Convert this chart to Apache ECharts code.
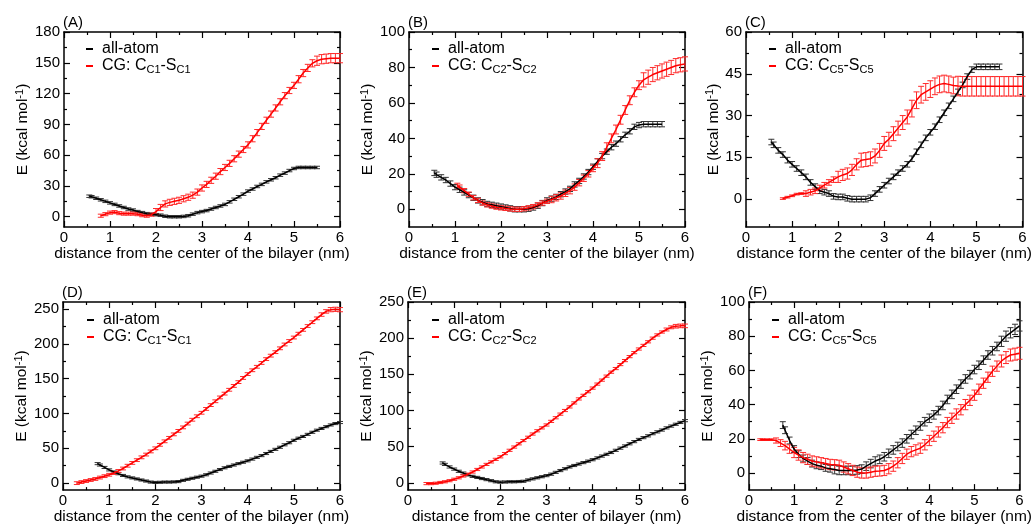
<!DOCTYPE html>
<html><head><meta charset="utf-8">
<script src="https://cdn.jsdelivr.net/npm/echarts@6/dist/echarts.min.js"></script>
<style>html,body{margin:0;padding:0;background:#fff}#c{width:1034px;height:526px}</style>
</head><body><div id="c"></div><script>
// ---- data: [distance (nm), E (kcal/mol), error] ----
const A_allatom = [[0.55,20,1.2],[0.6,19.5,1.2],[0.7,18,1.2],[0.8,16.5,1.2],[0.9,15,1.2],[1.0,13.5,1.2],[1.1,12,1.2],[1.2,10.5,1.2],[1.3,9,1.2],[1.4,7.5,1.2],[1.5,6.5,1.2],[1.6,5,1.2],[1.7,4,1.2],[1.8,3,1.2],[1.9,2.5,1.2],[2.0,2,1.2],[2.1,1.5,1.2],[2.2,0.5,1.2],[2.3,0,1.2],[2.4,0,1.2],[2.5,0,1.2],[2.6,0.3,1.2],[2.7,1,1.2],[2.8,2.5,1.2],[2.9,4,1.2],[3.0,5,1.2],[3.1,6,1.2],[3.2,7.5,1.2],[3.3,9,1.2],[3.4,10.5,1.2],[3.5,12,1.2],[3.6,14.5,1.2],[3.7,17,1.2],[3.8,19.5,1.2],[3.9,22,1.2],[4.0,25,1.2],[4.1,27,1.2],[4.2,29.5,1.2],[4.3,31.5,1.2],[4.4,34,1.2],[4.5,36,1.2],[4.6,38,1.2],[4.7,40.5,1.2],[4.8,42.5,1.2],[4.9,45,1.2],[5.0,47,1.2],[5.1,48,1.2],[5.2,48,1.2],[5.3,48,1.2],[5.4,48,1.2],[5.5,48,1.2]];
const A_cg = [[0.8,1,1.5],[0.9,2.5,1.5],[1.0,4,1.5],[1.1,4.5,1.5],[1.2,3.5,1.5],[1.3,3,1.5],[1.4,3,1.5],[1.5,3,1.5],[1.6,2.5,1.5],[1.7,1.5,1.5],[1.8,1,1.5],[1.9,2,1.5],[2.0,5,3],[2.1,9,3],[2.2,12.5,3],[2.3,14,3],[2.4,15,3],[2.5,16,3],[2.6,17.5,3],[2.7,19,3],[2.8,21,3],[2.9,24,3],[3.0,28,3],[3.1,31.5,3],[3.2,35.5,3],[3.3,39.5,3],[3.4,44,3],[3.5,48,3],[3.6,52,3],[3.7,56.5,3],[3.8,61,3],[3.9,65.5,3],[4.0,70,3],[4.1,76,3],[4.2,82,3],[4.3,88,3],[4.4,94,3],[4.5,100,3],[4.6,106,3],[4.7,112,3],[4.8,118,3],[4.9,123,3],[5.0,128,3],[5.1,134,3.5],[5.2,140,3.5],[5.3,145,3.5],[5.4,149.5,3.5],[5.5,152,4.5],[5.6,153.5,4.5],[5.7,154,4.5],[5.8,154.5,4.5],[5.9,154.5,4.5],[6.0,154.5,4.5]];
const B_allatom = [[0.55,20.5,1.5],[0.6,19.5,1.5],[0.7,18,1.5],[0.8,16.5,1.5],[0.9,14.5,1.5],[1.0,12.5,1.5],[1.1,11,1.5],[1.2,9.5,1.5],[1.3,8,1.5],[1.4,6.5,1.5],[1.5,5,1.5],[1.6,4,1.5],[1.7,3,1.5],[1.8,2.5,1.5],[1.9,2,1.5],[2.0,1.5,1.5],[2.1,1,1.5],[2.2,0.5,1.5],[2.3,0,1.5],[2.4,0,1.5],[2.5,0,1.5],[2.6,0.3,1.5],[2.7,1,1.5],[2.8,2,1.5],[2.9,3.5,1.5],[3.0,5,1.5],[3.1,6,1.5],[3.2,7,1.5],[3.3,8.5,1.5],[3.4,10,1.5],[3.5,11.5,1.5],[3.6,14,1.5],[3.7,16,1.5],[3.8,18.5,1.5],[3.9,21,1.5],[4.0,24,1.5],[4.1,27,1.5],[4.2,30,1.5],[4.3,32.5,1.5],[4.4,35,1.5],[4.5,37,1.5],[4.6,39.5,1.5],[4.7,42,1.5],[4.8,44,1.5],[4.9,46.5,1.5],[5.0,47.5,1.5],[5.1,48,1.5],[5.2,48,1.5],[5.3,48,1.5],[5.4,48,1.5],[5.5,48,1.5]];
const B_cg = [[1.05,13.5,1.2],[1.1,12.5,1.2],[1.2,10.5,1.2],[1.3,8.5,1.2],[1.4,6.5,1.2],[1.5,5,1.2],[1.6,3.5,1.2],[1.7,2.5,1.2],[1.8,1.8,1.2],[1.9,1.2,1.2],[2.0,0.8,1.2],[2.1,0.5,1.2],[2.2,0.2,1.2],[2.3,0,1.2],[2.4,0,1.2],[2.5,0.3,1.2],[2.6,0.8,1.2],[2.7,1.5,1.2],[2.8,2.5,1.2],[2.9,3.5,1.2],[3.0,4.5,1.2],[3.1,5.5,1.8],[3.2,6.5,1.8],[3.3,7.5,1.8],[3.4,9,1.8],[3.5,10.5,1.8],[3.6,12.5,1.8],[3.7,15,1.8],[3.8,17.5,1.8],[3.9,20,1.8],[4.0,23,1.8],[4.1,26,2.5],[4.2,30,2.5],[4.3,35,2.5],[4.4,40,2.5],[4.5,45,2.5],[4.6,50.5,2.5],[4.7,56,2.5],[4.8,61.5,2.5],[4.9,66,2.5],[5.0,70,2.5],[5.1,73,4],[5.2,74.5,4],[5.3,76,4],[5.4,77,4],[5.5,78,4],[5.6,79,4],[5.7,80,4],[5.8,81,4],[5.9,81.5,4],[6.0,82,4]];
const C_allatom = [[0.55,20.5,1],[0.6,19.5,1],[0.7,17.5,1],[0.8,16,1],[0.9,14,1],[1.0,12.5,1],[1.1,11,1],[1.2,9.5,1],[1.3,8,1],[1.4,6,1],[1.5,4.5,1],[1.6,3,1],[1.7,2.5,1],[1.8,2,1],[1.9,1,1],[2.0,0.8,1],[2.1,0.8,1],[2.2,0.3,1],[2.3,0,1],[2.4,0,1],[2.5,0,1],[2.6,0,1],[2.7,0.5,1],[2.8,2,1],[2.9,3.5,1],[3.0,5,1],[3.1,6.5,1],[3.2,8,1],[3.3,9.5,1],[3.4,11,1],[3.5,12.5,1],[3.6,14.5,1],[3.7,17,1],[3.8,19.5,1],[3.9,22,1],[4.0,24,1],[4.1,26,1],[4.2,28.5,1],[4.3,31,1],[4.4,33.5,1],[4.5,36,1],[4.6,38.5,1],[4.7,41,1],[4.8,44,1],[4.9,46.5,1],[5.0,47.5,1],[5.1,47.5,1],[5.2,47.5,1],[5.3,47.5,1],[5.4,47.5,1],[5.5,47.5,1]];
const C_cg = [[0.8,0.2,0.3],[0.9,0.7,0.3],[1.0,1.2,0.3],[1.1,1.8,0.3],[1.2,2,0.3],[1.3,2,1],[1.4,2.5,1],[1.5,3,1],[1.6,4,1],[1.7,5,1],[1.8,6,1],[1.9,7,1],[2.0,8,2],[2.1,8.7,2],[2.2,9.2,2],[2.3,10.5,2],[2.4,12.5,2],[2.5,14,2.5],[2.6,14.2,2.5],[2.7,14.5,2.5],[2.8,15.5,2.5],[2.9,17.5,2.5],[3.0,20,2.5],[3.1,21.5,2.5],[3.2,23.5,2.5],[3.3,25.5,2.5],[3.4,27.5,2.5],[3.5,29.5,2.5],[3.6,32.5,3],[3.7,35.5,3],[3.8,37.5,3],[3.9,38.5,3],[4.0,39.5,3],[4.1,40.5,3],[4.2,41.2,3],[4.3,41.5,3],[4.4,41.2,3],[4.5,40.8,3],[4.6,40.6,3.5],[4.7,40.5,3.5],[4.8,40.5,3.5],[4.9,40.5,3.5],[5.0,40.5,3.5],[5.1,40.5,3.5],[5.2,40.5,3.5],[5.3,40.5,3.5],[5.4,40.5,3.5],[5.5,40.5,3.5],[5.6,40.5,3.5],[5.7,40.5,3.5],[5.8,40.5,3.5],[5.9,40.5,3.5],[6.0,40.5,3.5]];
const D_allatom = [[0.75,28,1.5],[0.8,26,1.5],[0.9,22.5,1.5],[1.0,19,1.5],[1.1,16,1.5],[1.2,13.5,1.5],[1.3,11,1.5],[1.4,9,1.5],[1.5,7.5,1.5],[1.6,6,1.5],[1.7,4.5,1.5],[1.8,3,1.5],[1.9,1.5,1.5],[2.0,1,1.5],[2.1,1.2,1.5],[2.2,1.5,1.5],[2.3,1.5,1.5],[2.4,1.8,1.5],[2.5,2.2,1.5],[2.6,4,1.5],[2.7,5.5,1.5],[2.8,7,1.5],[2.9,8.5,1.5],[3.0,10,1.5],[3.1,12,1.5],[3.2,14.5,1.5],[3.3,17,1.5],[3.4,19.5,1.5],[3.5,22,1.5],[3.6,24,1.5],[3.7,26,1.5],[3.8,28,1.5],[3.9,30,1.5],[4.0,32,1.5],[4.1,34.5,1.5],[4.2,37,1.5],[4.3,39.5,1.5],[4.4,42.5,1.5],[4.5,45.5,1.5],[4.6,48.5,1.5],[4.7,51.5,1.5],[4.8,55,1.5],[4.9,58,1.5],[5.0,61.5,1.5],[5.1,64.5,1.5],[5.2,67,1.5],[5.3,70,1.5],[5.4,73,1.5],[5.5,76,1.5],[5.6,78.5,1.5],[5.7,81,1.5],[5.8,83.5,1.5],[5.9,85.5,1.5],[6.0,87,1.5]];
const D_cg = [[0.3,0,2],[0.4,1.5,2],[0.5,3,2],[0.6,4.5,2],[0.7,6,2],[0.8,8,2],[0.9,10,2],[1.0,12,2],[1.1,14.5,2],[1.2,17.5,2],[1.3,21,2],[1.4,25,2],[1.5,29,2],[1.6,33,2],[1.7,37,2],[1.8,41,2],[1.9,45.5,2],[2.0,50,2],[2.1,55,2],[2.2,60,2],[2.3,65,2],[2.4,70,2],[2.5,75,2],[2.6,80,2],[2.7,85.5,2],[2.8,91,2],[2.9,96,2],[3.0,101,2],[3.1,106.5,2],[3.2,112,2],[3.3,117.5,2],[3.4,123,2],[3.5,128.5,2],[3.6,134,2],[3.7,139.5,2],[3.8,145,2],[3.9,151,2],[4.0,156.5,2],[4.1,162,2],[4.2,167,2],[4.3,172.5,2],[4.4,178,2],[4.5,183,2],[4.6,188,2],[4.7,193.5,2],[4.8,199,2],[4.9,204,2],[5.0,209,2],[5.1,214.5,2],[5.2,220,2],[5.3,225.5,2],[5.4,231,2],[5.5,236.5,2],[5.6,242,2.5],[5.7,246.5,2.5],[5.8,249,3],[5.9,249.5,3],[6.0,249,3]];
const E_allatom = [[0.75,27.5,1.5],[0.8,25.5,1.5],[0.9,22,1.5],[1.0,19,1.5],[1.1,16,1.5],[1.2,13.5,1.5],[1.3,11,1.5],[1.4,9,1.5],[1.5,7.5,1.5],[1.6,6,1.5],[1.7,4.5,1.5],[1.8,3,1.5],[1.9,1.5,1.5],[2.0,1,1.5],[2.1,1.2,1.5],[2.2,1.5,1.5],[2.3,1.5,1.5],[2.4,1.8,1.5],[2.5,2.2,1.5],[2.6,4,1.5],[2.7,5.5,1.5],[2.8,7,1.5],[2.9,8.5,1.5],[3.0,10,1.5],[3.1,12,1.5],[3.2,14.5,1.5],[3.3,17,1.5],[3.4,19.5,1.5],[3.5,22,1.5],[3.6,24,1.5],[3.7,26,1.5],[3.8,28,1.5],[3.9,30,1.5],[4.0,32,1.5],[4.1,34.5,1.5],[4.2,37,1.5],[4.3,39.5,1.5],[4.4,42,1.5],[4.5,45,1.5],[4.6,48,1.5],[4.7,51,1.5],[4.8,54,1.5],[4.9,57,1.5],[5.0,60,1.5],[5.1,62.5,1.5],[5.2,65,1.5],[5.3,68,1.5],[5.4,70.5,1.5],[5.5,73,1.5],[5.6,76,1.5],[5.7,78.5,1.5],[5.8,81,1.5],[5.9,83.5,1.5],[6.0,86,1.5]];
const E_cg = [[0.4,-1,1.5],[0.5,-1,1.5],[0.6,-0.5,1.5],[0.7,0.5,1.5],[0.8,1.5,1.5],[0.9,3,1.5],[1.0,5,1.5],[1.1,7,1.5],[1.2,9.5,1.5],[1.3,12,1.5],[1.4,15,1.5],[1.5,18.5,1.5],[1.6,22,1.5],[1.7,25.5,1.5],[1.8,29,1.5],[1.9,32.5,1.5],[2.0,36,1.5],[2.1,40.5,1.5],[2.2,45,1.5],[2.3,49.5,1.5],[2.4,54,1.5],[2.5,58.5,1.5],[2.6,63,1.5],[2.7,67.5,1.5],[2.8,72,1.5],[2.9,76,1.5],[3.0,80,1.5],[3.1,85,1.5],[3.2,90,1.5],[3.3,95,1.5],[3.4,100,1.5],[3.5,105,1.5],[3.6,110.5,1.5],[3.7,116,1.5],[3.8,121,1.5],[3.9,126,1.5],[4.0,131,1.5],[4.1,136.5,1.5],[4.2,142,1.5],[4.3,147.5,1.5],[4.4,153,1.5],[4.5,158,1.5],[4.6,163.5,1.5],[4.7,169,1.5],[4.8,174.5,1.5],[4.9,180,1.5],[5.0,185,1.5],[5.1,190,1.5],[5.2,195,1.5],[5.3,200,1.5],[5.4,204.5,1.5],[5.5,208.5,1.5],[5.6,212,2],[5.7,215,2],[5.8,216.5,2.5],[5.9,217,2.5],[6.0,217,2.5]];
const F_allatom = [[0.75,28,2],[0.8,25,2],[0.9,19,2],[1.0,14,2],[1.1,11,2],[1.2,8.5,2],[1.3,7,2],[1.4,5.5,2],[1.5,4.5,2],[1.6,4,2],[1.7,3,2],[1.8,2.5,2],[1.9,2,2.5],[2.0,1.5,2.5],[2.1,1.5,2.5],[2.2,1.5,2.5],[2.3,1.5,2.5],[2.4,1.8,2.5],[2.5,2.3,2.5],[2.6,4,2.5],[2.7,5.5,2.5],[2.8,7,2.5],[2.9,8,2.5],[3.0,9.5,2.5],[3.1,11.5,2.5],[3.2,13.5,2.5],[3.3,15.5,2.5],[3.4,17.5,2.5],[3.5,20,2.5],[3.6,22.5,2.5],[3.7,25,2.5],[3.8,27.5,2.5],[3.9,30,2.5],[4.0,32,2.5],[4.1,34,2.5],[4.2,36.5,2.5],[4.3,39.5,2.5],[4.4,43,2.5],[4.5,46,2.5],[4.6,49,2.5],[4.7,52,2.5],[4.8,55,2.5],[4.9,57.5,2.5],[5.0,60.5,2.5],[5.1,63,2.5],[5.2,66,2.5],[5.3,69,2.5],[5.4,71.5,2.5],[5.5,74,2.5],[5.6,77,3],[5.7,80,3],[5.8,82,3],[5.9,84,3],[6.0,86,3]];
const F_cg = [[0.25,19.5,0.5],[0.3,19.5,0.5],[0.4,19.5,0.5],[0.5,19.5,0.5],[0.6,19,1.5],[0.7,17.5,2],[0.8,16,2.5],[0.9,14,2.5],[1.0,12,3],[1.1,10.5,3],[1.2,9,3],[1.3,8,3],[1.4,7,3],[1.5,6.5,3],[1.6,6,3],[1.7,5.5,3],[1.8,5,3],[1.9,4.8,3],[2.0,4.5,3],[2.1,3.5,3],[2.2,2.5,3],[2.3,1.5,3],[2.4,0.5,3],[2.5,0,3],[2.6,0,3],[2.7,0.5,3],[2.8,1,3],[2.9,1.2,3],[3.0,1.5,3],[3.1,2.5,3],[3.2,4,3],[3.3,6,3],[3.4,8.5,3],[3.5,11,3],[3.6,12.5,3],[3.7,13.5,3],[3.8,14.5,3],[3.9,16.5,3],[4.0,19,3],[4.1,21.5,3],[4.2,24,3],[4.3,26.5,3],[4.4,29.5,3],[4.5,32,3],[4.6,34.5,3],[4.7,37,3],[4.8,40,3],[4.9,42.5,3],[5.0,45.5,3],[5.1,49,3],[5.2,52.5,3],[5.3,56,3],[5.4,59.5,3],[5.5,62.5,3],[5.6,65.5,3.5],[5.7,67.5,3.5],[5.8,69,3.5],[5.9,69.5,3.5],[6.0,70,3.5]];

// ---- tick values ----
const xTicks = [0,1,2,3,4,5,6];
const A_yTicks = [0,30,60,90,120,150,180], A_yMinor = [15,45,75,105,135,165];
const B_yTicks = [0,20,40,60,80,100],      B_yMinor = [10,30,50,70,90];
const C_yTicks = [0,15,30,45,60],          C_yMinor = [7.5,22.5,37.5,52.5];
const D_yTicks = [0,50,100,150,200,250],   D_yMinor = [25,75,125,175,225];
const E_yTicks = [0,50,100,150,200,250],   E_yMinor = [25,75,125,175,225];
const F_yTicks = [0,20,40,60,80,100],      F_yMinor = [10,30,50,70,90];

const FONT = 'Liberation Sans, Arial, Helvetica, sans-serif';
const panels = [
  {lab:'(A)', aa:A_allatom, cg:A_cg, cgName:'CG: C_C1-S_C1', yMin:-10, yMax:180, ticks:A_yTicks, minor:A_yMinor,
   xTitle:'distance from the center of the bilayer (nm)', g:{left:64, top:32, width:276, height:195}, gap:24, leg:{left:81, top:36}},
  {lab:'(B)', aa:B_allatom, cg:B_cg, cgName:'CG: C_C2-S_C2', yMin:-10, yMax:100, ticks:B_yTicks, minor:B_yMinor,
   xTitle:'distance from the center of the bilayer (nm)', g:{left:409, top:32, width:276, height:195}, gap:24, leg:{left:427, top:36}},
  {lab:'(C)', aa:C_allatom, cg:C_cg, cgName:'CG: C_C5-S_C5', yMin:-10, yMax:60, ticks:C_yTicks, minor:C_yMinor,
   xTitle:'distance form the center of the bilayer (nm)', g:{left:746, top:32, width:277, height:195}, gap:18, leg:{left:764, top:36}},
  {lab:'(D)', aa:D_allatom, cg:D_cg, cgName:'CG: C_C1-S_C1', yMin:-10, yMax:260, ticks:D_yTicks, minor:D_yMinor,
   xTitle:'distance from the center of the bilayer (nm)', g:{left:63, top:302, width:277, height:194}, gap:24, leg:{left:82, top:307}},
  {lab:'(E)', aa:E_allatom, cg:E_cg, cgName:'CG: C_C2-S_C2', yMin:-10, yMax:250, ticks:E_yTicks, minor:E_yMinor,
   xTitle:'distance from the center of bilayer (nm)', g:{left:408, top:302, width:277, height:194}, gap:24, leg:{left:427, top:307}},
  {lab:'(F)', aa:F_allatom, cg:F_cg, cgName:'CG: C_C5-S_C5', yMin:-10, yMax:100, ticks:F_yTicks, minor:F_yMinor,
   xTitle:'distance from the center of the bilayer (nm)', g:{left:749, top:302, width:275, height:194}, gap:24, leg:{left:767, top:307}}
];

const lineStyle = {color:'#000', width:1.5};
function errRender(color){
  return function(params, api){
    const x = api.value(0), y = api.value(1), e = api.value(2);
    const hi = api.coord([x, y + e]), lo = api.coord([x, y - e]);
    const w = 3, st = {stroke:color, lineWidth:1};
    return {type:'group', children:[
      {type:'line', shape:{x1:hi[0], y1:hi[1], x2:lo[0], y2:lo[1]}, style:st},
      {type:'line', shape:{x1:hi[0]-w, y1:hi[1], x2:hi[0]+w, y2:hi[1]}, style:st},
      {type:'line', shape:{x1:lo[0]-w, y1:lo[1], x2:lo[0]+w, y2:lo[1]}, style:st}
    ]};
  };
}
const rich = {
  n:{fontSize:16, fontFamily:FONT, color:'#000', lineHeight:18},
  s:{fontSize:11, fontFamily:FONT, color:'#000', lineHeight:5, verticalAlign:'bottom'}
};
function legendFmt(name){
  if (name === 'all-atom') return '{n|all-atom}';
  const m = name.match(/^CG: C_(\w+)-S_(\w+)$/);
  return '{n|CG: C}{s|' + m[1] + '}{n|-S}{s|' + m[2] + '}';
}

const grid = [], xAxis = [], yAxis = [], series = [], legend = [], graphic = [];
panels.forEach((p, i) => {
  grid.push(Object.assign({containLabel:false}, p.g));
  const xBase = {gridIndex:i, type:'value', min:0, max:6, interval:1,
    splitLine:{show:false},
    axisLine:{show:true, onZero:false, lineStyle:lineStyle},
    axisTick:{show:true, inside:true, length:6, lineStyle:{color:'#000', width:1.2}},
    minorTick:{show:true, splitNumber:2, length:3, lineStyle:{color:'#000', width:1.2}}};
  xAxis.push(Object.assign({}, xBase, {position:'bottom',
    axisLabel:{show:true, fontSize:15, fontFamily:FONT, color:'#000', margin:3,
      customValues:xTicks},
    name:p.xTitle, nameLocation:'middle', nameGap:14,
    nameTextStyle:{fontSize:15.5, fontFamily:FONT, color:'#000'}}));
  xAxis.push(Object.assign({}, xBase, {position:'top', axisLabel:{show:false}}));
  const yBase = {gridIndex:i, type:'value', min:p.yMin, max:p.yMax, splitLine:{show:false}};
  const tk = (vals, len) => ({show:true, inside:true, length:len, customValues:vals, lineStyle:{color:'#000', width:1.2}});
  const yi = yAxis.length;
  yAxis.push(Object.assign({}, yBase, {position:'left',
    axisLine:{show:true, onZero:false, lineStyle:lineStyle},
    axisTick:tk(p.ticks, 6),
    axisLabel:{show:true, customValues:p.ticks, fontSize:15, fontFamily:FONT, color:'#000', margin:4},
    name:'{n|E (kcal mol}{p|-1}{n|)}', nameLocation:'middle', nameGap:p.gap, nameRotate:90,
    nameTextStyle:{rich:{
      n:{fontSize:15.5, fontFamily:FONT, color:'#000', lineHeight:18},
      p:{fontSize:11, fontFamily:FONT, color:'#000', lineHeight:8, verticalAlign:'top'}}}}));
  yAxis.push(Object.assign({}, yBase, {position:'left', axisLine:{show:false, onZero:false},
    axisTick:tk(p.minor, 3), axisLabel:{show:false}}));
  yAxis.push(Object.assign({}, yBase, {position:'right',
    axisLine:{show:true, onZero:false, lineStyle:lineStyle},
    axisTick:tk(p.ticks, 6), axisLabel:{show:false}}));
  yAxis.push(Object.assign({}, yBase, {position:'right', axisLine:{show:false, onZero:false},
    axisTick:tk(p.minor, 3), axisLabel:{show:false}}));

  const xi = i * 2;
  [[p.aa, 'all-atom', '#000000', '#333333'], [p.cg, p.cgName, '#ff0000', '#ff2a2a']].forEach(([d, nm, col, ecol]) => {
    series.push({type:'custom', name:'err' + i + nm, xAxisIndex:xi, yAxisIndex:yi,
      renderItem:errRender(ecol), data:d, encode:{x:0, y:1}, z:2, silent:true});
    series.push({type:'line', name:nm, xAxisIndex:xi, yAxisIndex:yi, data:d.map(r => [r[0], r[1]]),
      showSymbol:false, symbol:'none', lineStyle:{color:col, width:1.5}, itemStyle:{color:col}, z:3});
  });
  legend.push({data:['all-atom', p.cgName], left:p.leg.left, top:p.leg.top, orient:'vertical',
    icon:'rect', itemWidth:7, itemHeight:2, itemGap:1, selectedMode:false,
    formatter:legendFmt, textStyle:{rich:rich, padding:[0,0,0,4]}});
  graphic.push({type:'text', left:p.g.left - 1, top:p.g.top - 17,
    style:{text:p.lab, font:'15px ' + FONT, fill:'#000'}});
});

const chart = echarts.init(document.getElementById('c'), null, {renderer:'canvas'});
chart.setOption({animation:false, backgroundColor:'#fff', grid, xAxis, yAxis, series, legend, graphic});
</script></body></html>
